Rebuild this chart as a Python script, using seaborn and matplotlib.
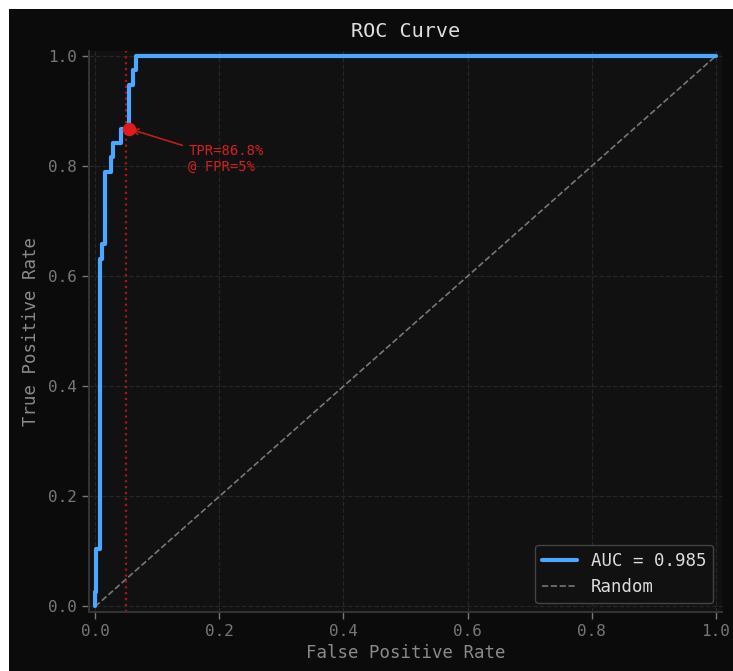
import numpy as np
import pandas as pd
import matplotlib
matplotlib.use("Agg")
import matplotlib.pyplot as plt
import seaborn as sns
from matplotlib.patches import Rectangle

# ROC points (step curve)
fpr = [0.0, 0.0, 0.002, 0.002, 0.007, 0.007, 0.011, 0.011, 0.016, 0.016,
       0.026, 0.026, 0.029, 0.029, 0.041, 0.041, 0.054, 0.054, 0.061, 0.061,
       0.065, 0.065, 1.0]
tpr = [0.0, 0.026, 0.026, 0.105, 0.105, 0.632, 0.632, 0.658, 0.658, 0.789,
       0.789, 0.816, 0.816, 0.842, 0.842, 0.868, 0.868, 0.947, 0.947, 0.974,
       0.974, 1.0, 1.0]
auc_value = 0.985
target_fpr = 0.05
marker_fpr = 0.054
tpr_at_target = 0.868

roc_df = pd.DataFrame({"fpr": fpr, "tpr": tpr})
diag_df = pd.DataFrame({"fpr": [0.0, 1.0], "tpr": [0.0, 1.0]})

sns.set_theme(style="dark")
plt.rcParams["font.family"] = ["DejaVu Sans Mono"]

bg_fig = "#0b0b0b"
bg_ax = "#111111"

fig = plt.figure(figsize=(7.33, 6.71), dpi=100, facecolor="white")
# dark panel (the reference is cropped with a white margin top/left)
fig.patches.append(Rectangle((9 / 733, 0), 1, 1 - 9 / 671, transform=fig.transFigure,
                             facecolor=bg_fig, edgecolor="none", zorder=-10))
ax = fig.add_axes([89 / 733, 59 / 671, 633 / 733, 561.5 / 671])
ax.set_facecolor(bg_ax)

sns.lineplot(data=roc_df, x="fpr", y="tpr", sort=False, estimator=None, ax=ax,
             color="#4da6ff", linewidth=3, label=f"AUC = {auc_value:.3f}", zorder=3)
sns.lineplot(data=diag_df, x="fpr", y="tpr", sort=False, estimator=None, ax=ax,
             color="#777777", linewidth=1.2, linestyle="--", label="Random", zorder=2)

ax.axvline(target_fpr, color="#a81616", linestyle=":", linewidth=1.6, zorder=2)
ax.scatter([marker_fpr], [tpr_at_target], color="#e01b1b", s=75, zorder=5)
ax.annotate(f"TPR={tpr_at_target * 100:.1f}%\n@ FPR={target_fpr * 100:.0f}%",
            xy=(marker_fpr, tpr_at_target), xytext=(0.150, 0.813),
            color="#d42020", fontsize=10, va="center", ha="left",
            arrowprops=dict(arrowstyle="->", color="#c01c1c", lw=1.2))

ax.set_xlim(-0.01, 1.01)
ax.set_ylim(-0.01, 1.01)
ax.set_xticks([0.0, 0.2, 0.4, 0.6, 0.8, 1.0])
ax.set_yticks([0.0, 0.2, 0.4, 0.6, 0.8, 1.0])
ax.xaxis.set_major_formatter(matplotlib.ticker.FormatStrFormatter("%.1f"))
ax.yaxis.set_major_formatter(matplotlib.ticker.FormatStrFormatter("%.1f"))
ax.grid(True, color="#262626", linestyle="--", linewidth=0.9)
ax.tick_params(colors="#777777", labelsize=11.5, length=5, width=1,
               bottom=True, left=True, direction="out")
for side in ["top", "right"]:
    ax.spines[side].set_visible(False)
for side in ["left", "bottom"]:
    ax.spines[side].set_visible(True)
    ax.spines[side].set_color("#333333")
    ax.spines[side].set_linewidth(1.5)

ax.set_title("ROC Curve", color="#dddddd", fontsize=14.5, pad=10)
ax.set_xlabel("False Positive Rate", color="#8a8a8a", fontsize=12.5)
ax.set_ylabel("True Positive Rate", color="#8a8a8a", fontsize=12.5, labelpad=6)

leg = ax.legend(loc="lower right", fontsize=12.5, facecolor=bg_ax, edgecolor="#444444",
                framealpha=1, fancybox=True)
for t in leg.get_texts():
    t.set_color("#dddddd")

fig.savefig("out.png", dpi=100, facecolor=fig.get_facecolor())
